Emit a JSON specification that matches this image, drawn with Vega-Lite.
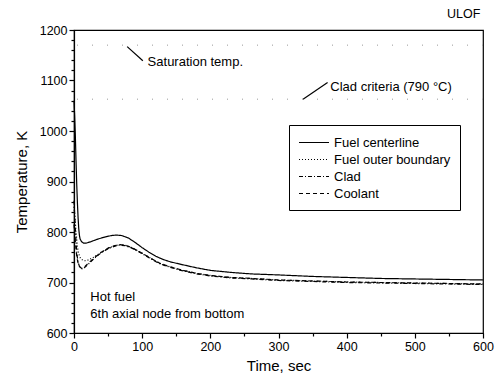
{
  "$schema": "https://vega.github.io/schema/vega-lite/v6.json",
  "width": 409,
  "height": 303,
  "autosize": {"type": "none"},
  "padding": {"left": 74, "top": 30, "right": 13, "bottom": 50},
  "background": "white",
  "config": {
    "view": {"stroke": "black", "strokeWidth": 1.2},
    "font": "Liberation Sans",
    "axis": {"grid": false, "domainColor": "black", "tickColor": "black", "labelColor": "black", "titleColor": "black", "titleFontWeight": "normal", "labelFont": "Liberation Sans", "titleFont": "Liberation Sans", "tickWidth": 1.2, "domainWidth": 1.2},
    "legend": {"labelFont": "Liberation Sans"},
    "text": {"font": "Liberation Sans"}
  },
  "datasets": {
    "curves": [
      {"t":0,"T":1060,"s":"Fuel centerline"},{"t":1,"T":1030,"s":"Fuel centerline"},{"t":2,"T":990,"s":"Fuel centerline"},{"t":3,"T":940,"s":"Fuel centerline"},{"t":4,"T":895,"s":"Fuel centerline"},{"t":5,"T":858,"s":"Fuel centerline"},{"t":6,"T":828,"s":"Fuel centerline"},{"t":7,"T":806,"s":"Fuel centerline"},{"t":8,"T":793,"s":"Fuel centerline"},{"t":9,"T":786,"s":"Fuel centerline"},{"t":11,"T":781,"s":"Fuel centerline"},{"t":14,"T":778,"s":"Fuel centerline"},{"t":18,"T":778,"s":"Fuel centerline"},{"t":25,"T":781,"s":"Fuel centerline"},{"t":35,"T":786,"s":"Fuel centerline"},{"t":45,"T":790,"s":"Fuel centerline"},{"t":55,"T":793,"s":"Fuel centerline"},{"t":62,"T":794,"s":"Fuel centerline"},{"t":70,"T":793,"s":"Fuel centerline"},{"t":80,"T":788,"s":"Fuel centerline"},{"t":90,"T":779,"s":"Fuel centerline"},{"t":100,"T":769,"s":"Fuel centerline"},{"t":110,"T":760,"s":"Fuel centerline"},{"t":120,"T":752,"s":"Fuel centerline"},{"t":130,"T":746,"s":"Fuel centerline"},{"t":141,"T":741,"s":"Fuel centerline"},{"t":160,"T":735,"s":"Fuel centerline"},{"t":180,"T":729,"s":"Fuel centerline"},{"t":200,"T":724,"s":"Fuel centerline"},{"t":230,"T":720,"s":"Fuel centerline"},{"t":260,"T":717,"s":"Fuel centerline"},{"t":300,"T":715,"s":"Fuel centerline"},{"t":350,"T":712,"s":"Fuel centerline"},{"t":400,"T":710,"s":"Fuel centerline"},{"t":450,"T":708,"s":"Fuel centerline"},{"t":500,"T":707,"s":"Fuel centerline"},{"t":550,"T":706,"s":"Fuel centerline"},{"t":600,"T":705,"s":"Fuel centerline"},
      {"t":0,"T":850,"s":"Fuel outer boundary"},{"t":1,"T":836,"s":"Fuel outer boundary"},{"t":2,"T":818,"s":"Fuel outer boundary"},{"t":3,"T":800,"s":"Fuel outer boundary"},{"t":4,"T":785,"s":"Fuel outer boundary"},{"t":5,"T":772,"s":"Fuel outer boundary"},{"t":6,"T":763,"s":"Fuel outer boundary"},{"t":8,"T":752,"s":"Fuel outer boundary"},{"t":10,"T":747,"s":"Fuel outer boundary"},{"t":13,"T":744,"s":"Fuel outer boundary"},{"t":17,"T":743,"s":"Fuel outer boundary"},{"t":22,"T":745,"s":"Fuel outer boundary"},{"t":30,"T":751,"s":"Fuel outer boundary"},{"t":40,"T":760,"s":"Fuel outer boundary"},{"t":50,"T":768,"s":"Fuel outer boundary"},{"t":60,"T":773,"s":"Fuel outer boundary"},{"t":67,"T":775,"s":"Fuel outer boundary"},{"t":75,"T":774,"s":"Fuel outer boundary"},{"t":85,"T":769,"s":"Fuel outer boundary"},{"t":100,"T":758,"s":"Fuel outer boundary"},{"t":110,"T":750,"s":"Fuel outer boundary"},{"t":126,"T":738,"s":"Fuel outer boundary"},{"t":141,"T":731,"s":"Fuel outer boundary"},{"t":160,"T":724,"s":"Fuel outer boundary"},{"t":180,"T":718,"s":"Fuel outer boundary"},{"t":200,"T":714,"s":"Fuel outer boundary"},{"t":230,"T":710,"s":"Fuel outer boundary"},{"t":260,"T":708,"s":"Fuel outer boundary"},{"t":300,"T":705,"s":"Fuel outer boundary"},{"t":350,"T":703,"s":"Fuel outer boundary"},{"t":400,"T":701,"s":"Fuel outer boundary"},{"t":450,"T":700,"s":"Fuel outer boundary"},{"t":500,"T":699,"s":"Fuel outer boundary"},{"t":550,"T":698,"s":"Fuel outer boundary"},{"t":600,"T":697,"s":"Fuel outer boundary"},
      {"t":0,"T":862,"s":"Clad"},{"t":1,"T":835,"s":"Clad"},{"t":2,"T":805,"s":"Clad"},{"t":3,"T":780,"s":"Clad"},{"t":4,"T":762,"s":"Clad"},{"t":5,"T":749,"s":"Clad"},{"t":6,"T":740,"s":"Clad"},{"t":8,"T":732,"s":"Clad"},{"t":10,"T":728,"s":"Clad"},{"t":12,"T":727,"s":"Clad"},{"t":15,"T":729,"s":"Clad"},{"t":20,"T":735,"s":"Clad"},{"t":30,"T":748,"s":"Clad"},{"t":40,"T":759,"s":"Clad"},{"t":50,"T":767,"s":"Clad"},{"t":60,"T":772,"s":"Clad"},{"t":67,"T":774,"s":"Clad"},{"t":75,"T":773,"s":"Clad"},{"t":85,"T":768,"s":"Clad"},{"t":100,"T":757,"s":"Clad"},{"t":110,"T":749,"s":"Clad"},{"t":126,"T":737,"s":"Clad"},{"t":141,"T":730,"s":"Clad"},{"t":160,"T":723,"s":"Clad"},{"t":180,"T":717,"s":"Clad"},{"t":200,"T":713,"s":"Clad"},{"t":230,"T":709,"s":"Clad"},{"t":260,"T":707,"s":"Clad"},{"t":300,"T":704,"s":"Clad"},{"t":350,"T":702,"s":"Clad"},{"t":400,"T":700,"s":"Clad"},{"t":450,"T":699,"s":"Clad"},{"t":500,"T":698,"s":"Clad"},{"t":550,"T":697,"s":"Clad"},{"t":600,"T":696,"s":"Clad"},
      {"t":0,"T":815,"s":"Coolant"},{"t":1,"T":798,"s":"Coolant"},{"t":2,"T":780,"s":"Coolant"},{"t":3,"T":765,"s":"Coolant"},{"t":4,"T":753,"s":"Coolant"},{"t":5,"T":745,"s":"Coolant"},{"t":6,"T":738,"s":"Coolant"},{"t":8,"T":732,"s":"Coolant"},{"t":10,"T":729,"s":"Coolant"},{"t":12,"T":728,"s":"Coolant"},{"t":15,"T":730,"s":"Coolant"},{"t":20,"T":737,"s":"Coolant"},{"t":30,"T":749,"s":"Coolant"},{"t":40,"T":760,"s":"Coolant"},{"t":50,"T":768,"s":"Coolant"},{"t":60,"T":773,"s":"Coolant"},{"t":67,"T":775,"s":"Coolant"},{"t":75,"T":774,"s":"Coolant"},{"t":85,"T":769,"s":"Coolant"},{"t":100,"T":758,"s":"Coolant"},{"t":110,"T":750,"s":"Coolant"},{"t":126,"T":738,"s":"Coolant"},{"t":141,"T":731,"s":"Coolant"},{"t":160,"T":724,"s":"Coolant"},{"t":180,"T":718,"s":"Coolant"},{"t":200,"T":714,"s":"Coolant"},{"t":230,"T":710,"s":"Coolant"},{"t":260,"T":708,"s":"Coolant"},{"t":300,"T":705,"s":"Coolant"},{"t":350,"T":703,"s":"Coolant"},{"t":400,"T":701,"s":"Coolant"},{"t":450,"T":700,"s":"Coolant"},{"t":500,"T":699,"s":"Coolant"},{"t":550,"T":698,"s":"Coolant"},{"t":600,"T":697,"s":"Coolant"}
    ],
    "refs": [
      {"name": "Saturation temp.", "T": 1170},
      {"name": "Clad criteria", "T": 1063}
    ],
    "arrows": [
      {"t": 78, "T": 1167, "t2": 101, "T2": 1139},
      {"t": 372, "T": 1096, "t2": 336, "T2": 1063}
    ],
    "notes": [
      {"t": 108, "T": 1137, "label": "Saturation temp."},
      {"t": 376, "T": 1088, "label": "Clad criteria (790 °C)"},
      {"t": 24, "T": 672, "label": "Hot fuel"},
      {"t": 24, "T": 638, "label": "6th axial node from bottom"}
    ],
    "title": [
      {"t": 596, "T": 1232, "label": "ULOF"}
    ]
  },
  "layer": [
    {
      "data": {"name": "curves"},
      "mark": {"type": "line", "color": "black", "strokeWidth": 1.2},
      "encoding": {
        "x": {"field": "t", "type": "quantitative", "scale": {"domain": [0, 600], "nice": false},
          "axis": {"orient": "bottom", "values": [0,50,100,150,200,250,300,350,400,450,500,550,600],
            "format": "d",
            "labelExpr": "datum.value % 100 === 0 ? datum.label : ''",
            "tickSize": {"condition": {"test": "datum.value % 100 !== 0", "value": 3}, "value": 5},
            "labelFontSize": 12.5, "labelPadding": 2, "labelFlush": false, "labelOverlap": false,
            "title": "Time, sec", "titleFontSize": 15, "titlePadding": 6}},
        "y": {"field": "T", "type": "quantitative", "scale": {"domain": [600, 1200], "nice": false, "zero": false},
          "axis": {"orient": "left", "values": [600,620,640,660,680,700,720,740,760,780,800,820,840,860,880,900,920,940,960,980,1000,1020,1040,1060,1080,1100,1120,1140,1160,1180,1200],
            "format": "d",
            "labelExpr": "datum.value % 100 === 0 ? datum.label : ''",
            "tickSize": {"condition": {"test": "datum.value % 100 !== 0", "value": 3}, "value": 5},
            "labelFontSize": 12.5, "labelPadding": 2, "labelOverlap": false,
            "title": "Temperature, K", "titleFontSize": 15, "titlePadding": 10}},
        "strokeDash": {"field": "s", "type": "nominal",
          "scale": {"domain": ["Fuel centerline", "Fuel outer boundary", "Clad", "Coolant"],
                    "range": [[1, 0], [1, 2], [4, 2, 1, 2], [4, 3]]},
          "legend": {"orient": "none", "legendX": 215, "legendY": 95, "title": null,
            "strokeColor": "black", "padding": 9, "symbolType": "M-1,0H3", "symbolSize": 225,
            "symbolStrokeColor": "black", "symbolStrokeWidth": 1.2, "labelFontSize": 13,
            "labelColor": "black", "labelOffset": 19, "rowPadding": 1, "fillColor": "white"}}
      }
    },
    {
      "data": {"name": "refs"},
      "mark": {"type": "rule", "color": "#999", "strokeWidth": 1, "strokeDash": [1, 14]},
      "encoding": {
        "y": {"field": "T", "type": "quantitative", "scale": {"domain": [600, 1200], "nice": false, "zero": false}, "axis": null}
      }
    },
    {
      "data": {"name": "arrows"},
      "mark": {"type": "rule", "color": "black", "strokeWidth": 1.2},
      "encoding": {
        "x": {"field": "t", "type": "quantitative", "scale": {"domain": [0, 600], "nice": false}, "axis": null},
        "y": {"field": "T", "type": "quantitative", "scale": {"domain": [600, 1200], "nice": false, "zero": false}, "axis": null},
        "x2": {"field": "t2"},
        "y2": {"field": "T2"}
      }
    },
    {
      "data": {"name": "notes"},
      "mark": {"type": "text", "align": "left", "baseline": "middle", "fontSize": 13, "color": "black"},
      "encoding": {
        "x": {"field": "t", "type": "quantitative", "scale": {"domain": [0, 600], "nice": false}, "axis": null},
        "y": {"field": "T", "type": "quantitative", "scale": {"domain": [600, 1200], "nice": false, "zero": false}, "axis": null},
        "text": {"field": "label"}
      }
    },
    {
      "data": {"name": "title"},
      "mark": {"type": "text", "align": "right", "baseline": "middle", "fontSize": 12.5, "color": "black"},
      "encoding": {
        "x": {"field": "t", "type": "quantitative", "scale": {"domain": [0, 600], "nice": false}, "axis": null},
        "y": {"field": "T", "type": "quantitative", "scale": {"domain": [600, 1200], "nice": false, "zero": false}, "axis": null},
        "text": {"field": "label"}
      }
    }
  ],
  "resolve": {"scale": {"x": "independent", "y": "independent"}, "axis": {"x": "independent", "y": "independent"}}
}
